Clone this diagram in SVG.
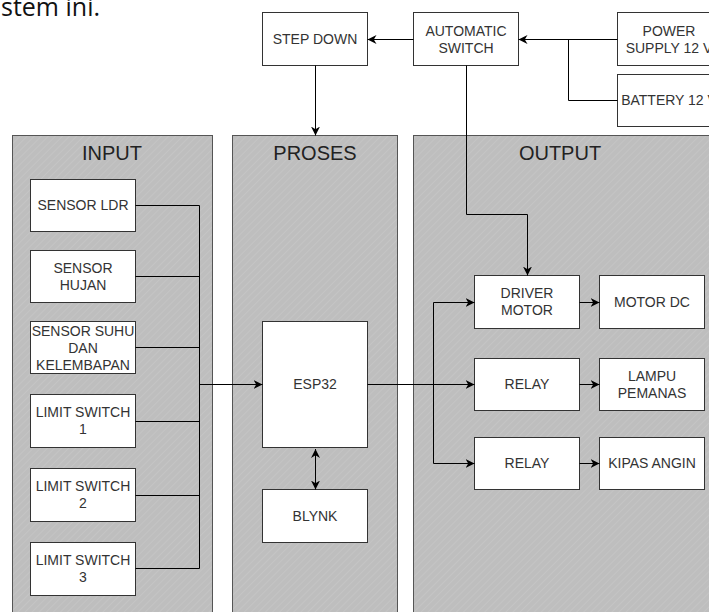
<svg xmlns="http://www.w3.org/2000/svg" width="709" height="612" viewBox="0 0 709 612">
<style>
.panel{fill:url(#hatch);stroke:#555;stroke-width:1}
.box{fill:#fff;stroke:#333;stroke-width:1}
.t{font-family:"Liberation Sans",Arial,sans-serif;font-size:14px;fill:#333;text-anchor:middle}
.pt{font-family:"Liberation Sans",Arial,sans-serif;font-size:20px;fill:#222;text-anchor:middle}
.c{fill:none;stroke:#000;stroke-width:1}
.a{marker-end:url(#arr)}
</style>
<defs>
<pattern id="hatch" width="5" height="5" patternUnits="userSpaceOnUse" patternTransform="rotate(45)">
<rect width="5" height="5" fill="#bebebe"/>
<line x1="0" y1="0" x2="0" y2="5" stroke="#c8c8c8" stroke-width="1.2"/>
</pattern>
<marker id="arr" viewBox="0 0 10 10" refX="10" refY="5" markerWidth="9" markerHeight="9" markerUnits="userSpaceOnUse" orient="auto-start-reverse">
<path d="M0,0 L10,5 L0,10 L3,5 Z" fill="#000"/>
</marker>
</defs>
<rect width="709" height="612" fill="#fff"/>
<text x="1" y="16" font-family="'Open Sans',sans-serif" font-size="25" fill="#111">stem ini.</text>

<g id="panel-input"><rect class="panel" x="12.5" y="135.5" width="200" height="490"/><text class="pt" x="112" y="160">INPUT</text></g>
<g id="panel-proses"><rect class="panel" x="232.5" y="135.5" width="165" height="490"/><text class="pt" x="315" y="160">PROSES</text></g>
<g id="panel-output"><rect class="panel" x="413.5" y="135.5" width="310" height="490"/><text class="pt" x="560" y="160">OUTPUT</text></g>

<g id="step-down"><rect class="box" x="262.5" y="12.5" width="105" height="53"/><text class="t" x="315" y="44">STEP DOWN</text></g>
<g id="automatic-switch"><rect class="box" x="413.5" y="12.5" width="105" height="53"/><text class="t" x="466" y="36">AUTOMATIC</text><text class="t" x="466" y="53">SWITCH</text></g>
<g id="power-supply"><rect class="box" x="617.5" y="12.5" width="105" height="53"/><text class="t" x="669" y="36">POWER</text><text class="t" x="669" y="53">SUPPLY 12 V</text></g>
<g id="battery"><rect class="box" x="617.5" y="74.5" width="105" height="52"/><text class="t" x="669" y="105">BATTERY 12 V</text></g>

<g id="sensor-ldr"><rect class="box" x="30.5" y="179.5" width="105" height="52"/><text class="t" x="83" y="210">SENSOR LDR</text></g>
<g id="sensor-hujan"><rect class="box" x="30.5" y="250.5" width="105" height="52"/><text class="t" x="83" y="273">SENSOR</text><text class="t" x="83" y="290">HUJAN</text></g>
<g id="sensor-suhu"><rect class="box" x="30.5" y="321.5" width="105" height="52"/><text class="t" x="83" y="336">SENSOR SUHU</text><text class="t" x="83" y="353">DAN</text><text class="t" x="83" y="370">KELEMBAPAN</text></g>
<g id="limit-switch-1"><rect class="box" x="30.5" y="394.5" width="105" height="53"/><text class="t" x="83" y="417">LIMIT SWITCH</text><text class="t" x="83" y="434">1</text></g>
<g id="limit-switch-2"><rect class="box" x="30.5" y="468.5" width="105" height="53"/><text class="t" x="83" y="491">LIMIT SWITCH</text><text class="t" x="83" y="508">2</text></g>
<g id="limit-switch-3"><rect class="box" x="30.5" y="542.5" width="105" height="53"/><text class="t" x="83" y="565">LIMIT SWITCH</text><text class="t" x="83" y="582">3</text></g>

<g id="esp32"><rect class="box" x="262.5" y="321.5" width="105" height="126"/><text class="t" x="315" y="389">ESP32</text></g>
<g id="blynk"><rect class="box" x="262.5" y="489.5" width="105" height="53"/><text class="t" x="315" y="521">BLYNK</text></g>

<g id="driver-motor"><rect class="box" x="474.5" y="275.5" width="105" height="53"/><text class="t" x="527" y="298">DRIVER</text><text class="t" x="527" y="315">MOTOR</text></g>
<g id="motor-dc"><rect class="box" x="599.5" y="275.5" width="105" height="53"/><text class="t" x="652" y="307">MOTOR DC</text></g>
<g id="relay-1"><rect class="box" x="474.5" y="358.5" width="105" height="52"/><text class="t" x="527" y="389">RELAY</text></g>
<g id="lampu-pemanas"><rect class="box" x="599.5" y="358.5" width="105" height="52"/><text class="t" x="652" y="381">LAMPU</text><text class="t" x="652" y="398">PEMANAS</text></g>
<g id="relay-2"><rect class="box" x="474.5" y="437.5" width="105" height="52"/><text class="t" x="527" y="468">RELAY</text></g>
<g id="kipas-angin"><rect class="box" x="599.5" y="437.5" width="105" height="52"/><text class="t" x="652" y="468">KIPAS ANGIN</text></g>

<g id="connectors">
<path class="c a" d="M413.5,39.5 L367.5,39.5"/>
<path class="c a" d="M617.5,39.5 L518.5,39.5"/>
<path class="c" d="M617.5,100.5 L568.5,100.5 L568.5,39.5"/>
<path class="c a" d="M315.5,65.5 L315.5,135.5"/>
<path class="c a" d="M466.5,65.5 L466.5,214.5 L527.5,214.5 L527.5,275.5"/>
<path class="c" d="M135.5,205.5 L199.5,205.5 M135.5,276.5 L199.5,276.5 M135.5,347.5 L199.5,347.5 M135.5,421.5 L199.5,421.5 M135.5,495.5 L199.5,495.5 M135.5,568.5 L199.5,568.5 M199.5,205.5 L199.5,568.5"/>
<path class="c a" d="M199.5,384.5 L262.5,384.5"/>
<path class="c a" d="M367.5,384.5 L474.5,384.5"/>
<path class="c a" d="M433.5,384.5 L433.5,302.5 L474.5,302.5"/>
<path class="c a" d="M433.5,384.5 L433.5,463.5 L474.5,463.5"/>
<path class="c a" d="M579.5,302.5 L599.5,302.5"/>
<path class="c a" d="M579.5,384.5 L599.5,384.5"/>
<path class="c a" d="M579.5,463.5 L599.5,463.5"/>
<path class="c a" d="M315.5,449 L315.5,489.5" marker-start="url(#arr)"/>
</g>
</svg>
